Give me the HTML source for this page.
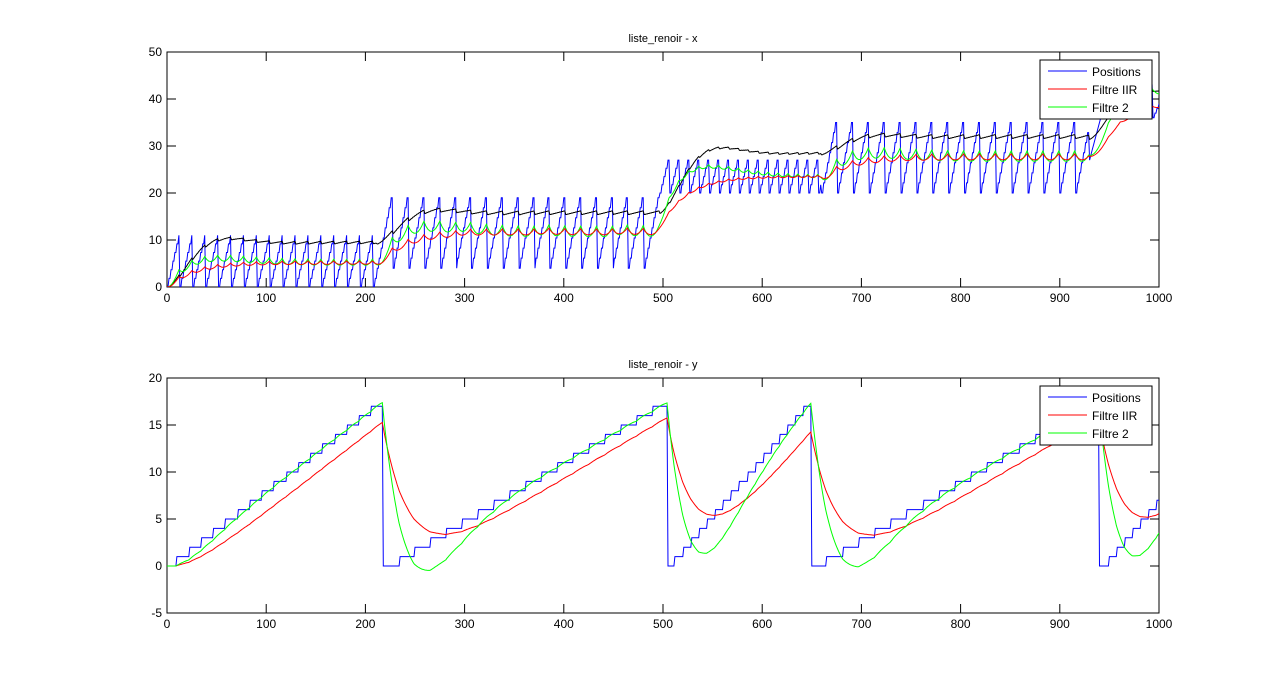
<!DOCTYPE html>
<html><head><meta charset="utf-8"><style>
html,body{margin:0;padding:0;background:#fff;}
svg{display:block;font-family:"Liberation Sans",Arial,sans-serif;}
</style></head><body>
<svg id="s" width="1281" height="689" xmlns="http://www.w3.org/2000/svg"></svg>
<script>
var S=document.getElementById('s');
var X0=167,X1=1159;
function px(t){return X0+(X1-X0)*t/1000;}
var h='<rect width="1281" height="689" fill="#fff"/>';
var segs=[[0,212,0,11,13],[212,497,4,19,15.8],[497,660,20,27,10],[660,930,20,35,16],[930,1001,36,43,16]];
function blueTop(t){
 for(var i=0;i<segs.length;i++){var s=segs[i];if(t>=s[0]&&t<s[1]){
   if(i==4&&t<950){return 27+(43-27)*(t-930)/20;}
   var ph=((t-s[0])%s[4])/s[4];var st=Math.max(3,Math.round(s[4]/2));
   var k=Math.floor(ph*st);
   return s[2]+(s[3]-s[2])*k/(st-1);}}
 return 40;}
function blueBot(t){
 function ramp(t0,t1,n){var k=Math.floor((t-t0)/((t1-t0)/n))+1;return Math.min(n,Math.max(0,k));}
 if(t<10)return 0;
 if(t<218)return ramp(10,218,17);
 if(t<235)return 0;
 if(t<505)return 1+ramp(250,505,16);
 if(t<512)return 0;
 if(t<650)return ramp(512,650,17);
 if(t<665)return 0;
 if(t<940)return ramp(665,940,17);
 if(t<950)return 0;
 return ramp(950,1006,7);
}
function iir(x,a){var y=[],v=0;for(var i=0;i<x.length;i++){v+=a*(x[i]-v);y.push(v);}return y;}
function holt(x,al,be){var y=[],l=0,b=0;for(var i=0;i<x.length;i++){var lp=l;l=al*x[i]+(1-al)*(l+b);b=be*(l-lp)+(1-be)*b;y.push(l);}return y;}
function so(x,w,z){var y=[],v=0,d=0;for(var i=0;i<x.length;i++){var acc=w*w*(x[i]-v)-2*z*w*d;d+=acc;v+=d;y.push(v);}return y;}
var bt=[],bb=[];for(var t=0;t<=1000;t++){bt.push(blueTop(t));bb.push(blueBot(t));}
function path(arr,ymap,col,w){var d='';for(var i=0;i<arr.length;i++){d+=(i?'L':'M')+px(i).toFixed(1)+' '+ymap(arr[i]).toFixed(1);}
 return '<path d="'+d+'" fill="none" stroke="'+col+'" stroke-width="'+(w||1)+'"/>';}
function yt(v){return 287-(v/50)*235;}
function yb(v){return 613-((v+5)/25)*235;}
var tgt=[],mean=[];for(var t=0;t<=1000;t++){var m=t<212?5.5:t<497?11.5:t<660?23.5:t<930?27.5:39.5;mean.push(m);
 tgt.push(t<212?9.5:t<497?15.8:t<660?28.5:t<930?32:41);}
var blk=so(tgt,0.06,0.6).map(function(v,i){return v+0.05*(bt[i]-mean[i]);});
h+='<clipPath id="c1"><rect x="167" y="52" width="992" height="235"/></clipPath><clipPath id="c2"><rect x="167" y="378" width="992" height="235"/></clipPath>';
function axes(y0,y1,yticks,ymap,title){
 var o='<rect x="167" y="'+y0+'" width="992" height="'+(y1-y0)+'" fill="#fff" stroke="#000" stroke-width="1"/>';
 for(var t=0;t<=1000;t+=100){var x=px(t);o+='<line x1="'+x+'" y1="'+y1+'" x2="'+x+'" y2="'+(y1-9)+'" stroke="#000"/><line x1="'+x+'" y1="'+y0+'" x2="'+x+'" y2="'+(y0+9)+'" stroke="#000"/>';
  o+='<text x="'+x+'" y="'+(y1+15)+'" font-size="12" text-anchor="middle">'+t+'</text>';}
 yticks.forEach(function(v){var y=ymap(v);o+='<line x1="167" y1="'+y+'" x2="176" y2="'+y+'" stroke="#000"/><line x1="1159" y1="'+y+'" x2="1150" y2="'+y+'" stroke="#000"/>';
  o+='<text x="162" y="'+(y+4)+'" font-size="12" text-anchor="end">'+v+'</text>';});
 o+='<text x="663" y="'+(y0-10)+'" font-size="11" text-anchor="middle">'+title+'</text>';
 return o;}
function legend(y){var o='<rect x="1040" y="'+y+'" width="112" height="59" fill="#fff" stroke="#000"/>';
 [['Positions','#0000ff'],['Filtre IIR','#ff0000'],['Filtre 2','#00ff00']].forEach(function(e,i){var yy=y+11+i*18;
  o+='<line x1="1048" y1="'+yy+'" x2="1087" y2="'+yy+'" stroke="'+e[1]+'"/><text x="1092" y="'+(yy+5)+'" font-size="12">'+e[0]+'</text>';});return o;}
h+=axes(52,287,[0,10,20,30,40,50],yt,'liste_renoir - x');
h+='<g clip-path="url(#c1)">'+path(bt,yt,'#0000ff')+path(blk,yt,'#000')+path(holt(bt,0.064,0.025),yt,'#00ff00')+path(iir(bt,0.037),yt,'#ff0000')+'</g>';
h+=legend(60);
h+=axes(378,613,[-5,0,5,10,15,20],yb,'liste_renoir - y');
h+='<g clip-path="url(#c2)">'+path(bb,yb,'#0000ff')+path(iir(bb,0.037),yb,'#ff0000')+path(holt(bb,0.064,0.025),yb,'#00ff00')+'</g>';
h+=legend(386);
S.innerHTML=h;
</script>
</body></html>
